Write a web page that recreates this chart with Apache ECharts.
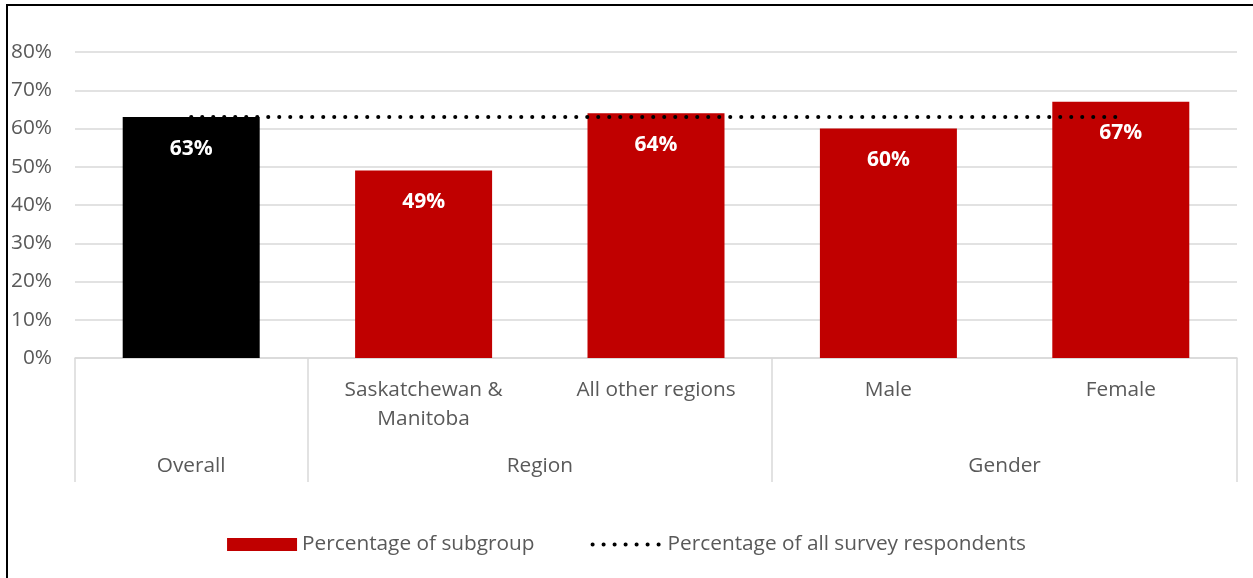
<!DOCTYPE html>
<html>
<head>
<meta charset="utf-8">
<script src="https://cdn.jsdelivr.net/npm/echarts@6/dist/echarts.min.js"></script>
<style>
  html, body { margin: 0; padding: 0; background: #fff; }
  #chart { width: 1253px; height: 578px; position: absolute; left: 0; top: 0; }
  #frame { position: absolute; left: 6px; top: 4px; right: 0; bottom: 0;
           border-left: 2px solid #000; border-top: 2px solid #000; pointer-events: none; }
</style>
</head>
<body>
<div id="chart"></div>
<div id="frame"></div>
<script>
// Subgroup categories (first row of the axis) and their groups (second row)
const categories = ['', 'Saskatchewan &\nManitoba', 'All other regions', 'Male', 'Female'];
const groupLabels = ['Overall', 'Region', 'Gender'];
const groupCenters = [0.5, 2, 4];        // in category units
const groupBounds = [0, 1, 3, 5];        // separator positions, category units
const subgroupValues = [63, 49, 64, 60, 67];
const overallValue = [63, 63, 63, 63, 63];
const yTicks = [0, 10, 20, 30, 40, 50, 60, 70, 80];

const FONT = 'Open Sans';
const FS = 20.8;
const TEXT = '#595959';
const GRID = '#d9d9d9';
const RED = '#c00000';

const chart = echarts.init(document.getElementById('chart'));
chart.setOption({
  animation: false,
  textStyle: { fontFamily: FONT },
  grid: { left: 75, right: 16, top: 52, bottom: 220, containLabel: false },
  xAxis: [
    {
      type: 'category',
      data: categories,
      axisLine: { lineStyle: { color: GRID, width: 1.5 } },
      axisTick: { show: false },
      axisLabel: { color: TEXT, fontSize: FS, lineHeight: 29, margin: 18, interval: 0, fontFamily: FONT }
    },
    {
      type: 'value',
      min: 0, max: 5,
      position: 'bottom',
      axisLine: { show: false },
      splitLine: { show: false },
      axisTick: { show: true, customValues: groupBounds, length: 124, lineStyle: { color: GRID, width: 1.5 } },
      axisLabel: {
        customValues: groupCenters,
        color: TEXT, fontSize: FS, margin: 98, fontFamily: FONT,
        formatter: v => groupLabels[groupCenters.indexOf(v)] || ''
      }
    }
  ],
  yAxis: {
    type: 'value',
    min: yTicks[0], max: yTicks[yTicks.length - 1], interval: 10,
    axisLine: { show: false },
    axisTick: { show: false },
    splitLine: { lineStyle: { color: GRID, width: 1.5 } },
    axisLabel: { color: TEXT, fontSize: FS, margin: 23, formatter: '{value}%', fontFamily: FONT }
  },
  legend: {
    bottom: 18,
    left: 'center',
    itemGap: 56,
    itemWidth: 70,
    itemHeight: 13,
    textStyle: { color: TEXT, fontSize: FS, fontFamily: FONT },
    data: [
      { name: 'Percentage of subgroup', icon: 'rect', itemStyle: { color: RED } },
      {
        name: 'Percentage of all survey respondents',
        itemStyle: { opacity: 0 },
        lineStyle: { color: '#000', width: 4, type: [0.1, 10.9], cap: 'round' }
      }
    ]
  },
  series: [
    {
      name: 'Percentage of subgroup',
      type: 'bar',
      xAxisIndex: 0,
      barWidth: 137,
      data: subgroupValues.map((v, i) => ({ value: v, itemStyle: { color: i === 0 ? '#000' : RED } })),
      itemStyle: { color: RED },
      label: {
        show: true, position: 'insideTop', distance: 21,
        color: '#fff', fontWeight: 'bold', fontSize: 21, fontFamily: FONT,
        formatter: '{c}%'
      },
      z: 2
    },
    {
      name: 'Percentage of all survey respondents',
      type: 'line',
      xAxisIndex: 0,
      data: overallValue,
      symbol: 'none',
      itemStyle: { color: '#000' },
      lineStyle: { color: '#000', width: 4, type: [0.1, 10.9], cap: 'round' },
      z: 5
    }
  ]
});
</script>
</body>
</html>
